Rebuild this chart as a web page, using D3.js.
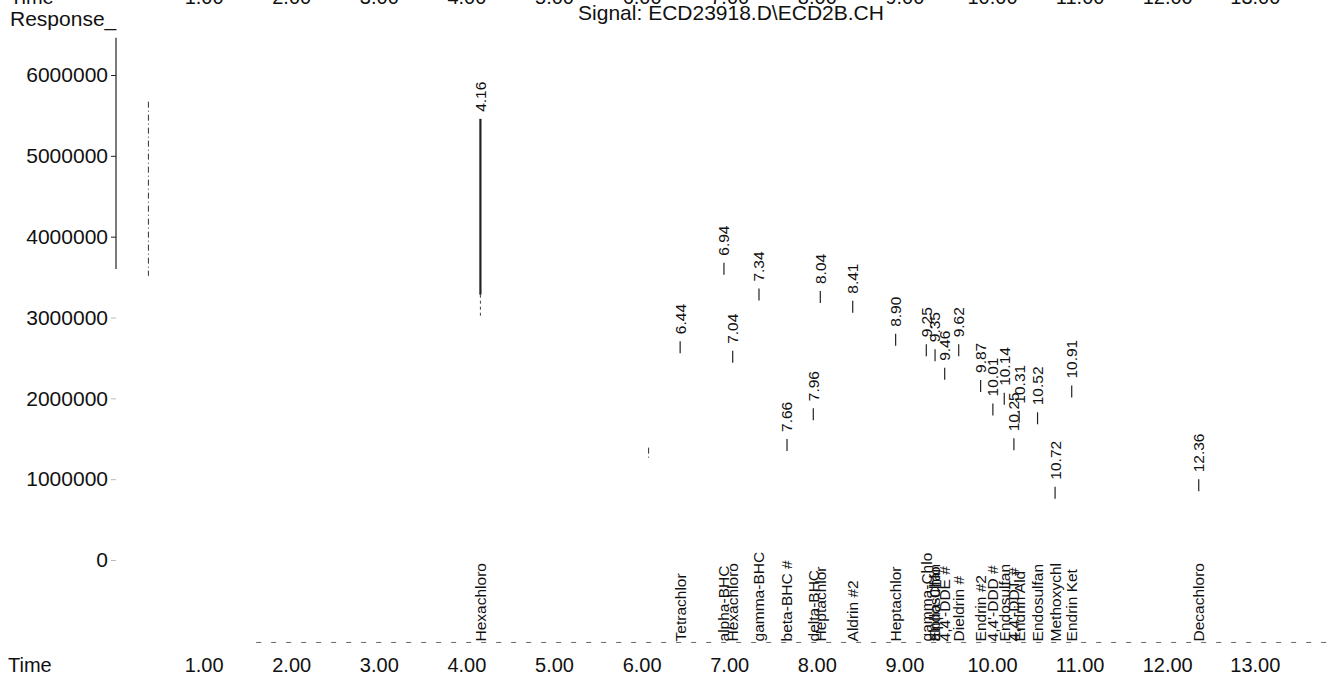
<!DOCTYPE html>
<html><head><meta charset="utf-8">
<script src="https://cdn.jsdelivr.net/npm/d3@7"></script>
<style>
body{margin:0;background:#fff}
svg{display:block}
text{font-family:"Liberation Sans",Arial,sans-serif;fill:#111}
</style>
</head><body>
<svg id="c" width="1336" height="678"></svg>
<script>
// ---- data ----
const peakTimes   = [4.16, 6.44, 6.94, 7.04, 7.34, 7.66, 7.96, 8.04, 8.41, 8.90, 9.25, 9.35, 9.46, 9.62, 9.87, 10.01, 10.14, 10.25, 10.31, 10.52, 10.72, 10.91, 12.36];
const peakHeights = [5470000, 2720000, 3690000, 2600000, 3370000, 1510000, 1890000, 3340000, 3220000, 2810000, 2680000, 2620000, 2390000, 2680000, 2240000, 1950000, 2080000, 1520000, 1860000, 1840000, 920000, 2170000, 1010000];
const compoundNames = [["Hexachloro"],["Tetrachlor"],["alpha-BHC"],["Hexachloro"],["gamma-BHC"],["beta-BHC #"],["delta-BHC"],["Heptachlor"],["Aldrin #2"],["Heptachlor"],["gamma-Chlo"],["alpha-Chlo","Endosulfan"],["4,4'-DDE #"],["Dieldrin #"],["Endrin #2"],["4,4'-DDD #"],["Endosulfan"],["4,4'-DDT #"],["Endrin Ald"],["Endosulfan"],["Methoxychl"],["Endrin Ket"],["Decachloro"]];
const unlabeledTimes   = [0.37, 6.08];
const unlabeledHeights = [5670000, 1390000];
const baselineResponse = -1020000;
const timeTicks = [1,2,3,4,5,6,7,8,9,10,11,12,13];
const responseTicks = [0,1000000,2000000,3000000,4000000,5000000,6000000];
const titleText = "Signal: ECD23918.D\\ECD2B.CH";

// ---- layout ----
const svg = d3.select("#c");
const x = d3.scaleLinear().domain([0, 13.9]).range([116, 116 + 13.9*87.6]);
const y = d3.scaleLinear().domain([0, 6000000]).range([560, 75]);
const axisTop = 6460000, axisFade = 3600000;

// title & axis captions
svg.append("text").attr("x", 731).attr("y", 20).attr("text-anchor","middle")
  .style("font-size","21px").text(titleText);
svg.append("text").attr("x", 10).attr("y", 26).style("font-size","21px").text("Response_");
svg.append("text").attr("x", 8).attr("y", 672).style("font-size","20px").text("Time");
// cut-off axis row of the chart printed above
svg.append("text").attr("x", 10).attr("y", 3.5).style("font-size","20px").text("Time");

// y axis
const yAxis = svg.append("g").attr("transform", `translate(${x(0)},0)`)
  .call(d3.axisLeft(y).tickValues(responseTicks).tickFormat(d3.format("d")).tickSize(5).tickPadding(3));
yAxis.select(".domain").remove();
yAxis.selectAll("text").style("font-size","21px").style("font-family",'"Liberation Sans",Arial,sans-serif').attr("fill","#111");
yAxis.selectAll("line").attr("stroke", d => d >= axisFade ? "#222" : "#bbb");
svg.append("line").attr("x1", x(0)).attr("x2", x(0))
  .attr("y1", y(axisTop)).attr("y2", y(axisFade)).attr("stroke","#222").attr("stroke-width",1.2);

// x axis (bottom) and partial top copy
function timeAxis(ty){
  const g = svg.append("g").attr("transform", `translate(0,${ty})`)
    .call(d3.axisBottom(x).tickValues(timeTicks).tickFormat(d3.format(".2f")).tickSize(0).tickPadding(0));
  g.select(".domain").remove();
  g.selectAll("text").style("font-size","20px").style("font-family",'"Liberation Sans",Arial,sans-serif').attr("fill","#111");
  return g;
}
timeAxis(658);
timeAxis(-10.7);

// baseline (faded, dashed)
svg.append("line").attr("x1", x(1.6)).attr("x2", x(13.9))
  .attr("y1", y(baselineResponse)).attr("y2", y(baselineResponse))
  .attr("stroke","#666").attr("stroke-width",1).attr("stroke-dasharray","5,10");

// peaks: visible tips
const peaks = peakTimes.map((t,i)=>({t, h: peakHeights[i], names: compoundNames[i]}));
const tall = 5000000;
function tipEnd(h){ return h > tall ? y(h*0.6) : y(h) + 13; }

svg.append("g").selectAll("line").data(peaks).join("line")
  .attr("x1", d=>x(d.t)).attr("x2", d=>x(d.t))
  .attr("y1", d=>y(d.h)+1).attr("y2", d=>tipEnd(d.h))
  .attr("stroke","#222").attr("stroke-width", d=> d.h > tall ? 2.2 : 1.2);
// faded continuation of the big peak
svg.append("g").selectAll("line").data(peaks.filter(d=>d.h>tall)).join("line")
  .attr("x1", d=>x(d.t)).attr("x2", d=>x(d.t))
  .attr("y1", d=>tipEnd(d.h)).attr("y2", d=>y(d.h*0.55))
  .attr("stroke","#444").attr("stroke-width",1).attr("stroke-dasharray","3,3");

// unlabeled peaks (solvent etc.)
const others = unlabeledTimes.map((t,i)=>({t, h: unlabeledHeights[i]}));
svg.append("g").selectAll("line").data(others).join("line")
  .attr("x1", d=>x(d.t)).attr("x2", d=>x(d.t))
  .attr("y1", d=>y(d.h)).attr("y2", d=> d.h > tall ? y(d.h*0.62) : y(d.h)+12)
  .attr("stroke","#333").attr("stroke-width",1).attr("stroke-dasharray","6,3,1,3");

// retention-time labels
svg.append("g").selectAll("text").data(peaks).join("text")
  .attr("transform", d=>`translate(${x(d.t)},${y(d.h)-6}) rotate(-90)`)
  .attr("dy","0.35em").style("font-size","15.5px")
  .text(d=>d.t.toFixed(2));

// compound names along baseline
const nameData = peaks.flatMap(d=>d.names.map(n=>({t:d.t, n})));
svg.append("g").selectAll("text").data(nameData).join("text")
  .attr("transform", d=>`translate(${x(d.t)},${y(baselineResponse)-1}) rotate(-90)`)
  .attr("dy","0.35em").style("font-size","15.5px")
  .text(d=>d.n);
</script>
</body></html>
